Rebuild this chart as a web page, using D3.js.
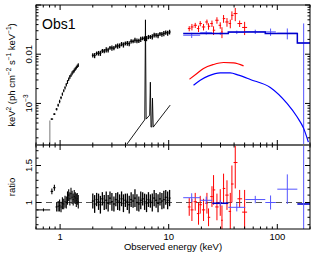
<!DOCTYPE html>
<html><head><meta charset="utf-8">
<script src="https://cdn.jsdelivr.net/npm/d3@7"></script>
<style>body{margin:0;background:#fff}svg{display:block;font-family:"Liberation Sans",Arial,Helvetica,sans-serif}</style>
</head><body><svg id="c" width="311" height="256"></svg>
<script>
// ---------------- data ----------------
const panelLabel = "Obs1";
const xTitle = "Observed energy (keV)";
const ratioTitle = "ratio";

const xDomain = [0.6, 200];
const topDomain = [1.43e-4, 0.1];
const ratioDomain = [0.642, 1.777];

const xMajorTicks = [1, 10, 100];
const xTickLabels = ["1", "10", "100"];
const xMinorTicks = [0.6,0.7,0.8,0.9,2,3,4,5,6,7,8,9,20,30,40,50,60,70,80,90,200];
const topMajorTicks = [1e-3, 1e-2, 0.1];
const topTickLabels = [["10","\u22123"], ["0.01",""], null];
const topMinorTicks = [2e-4,3e-4,4e-4,5e-4,6e-4,7e-4,8e-4,9e-4,2e-3,3e-3,4e-3,5e-3,6e-3,7e-3,8e-3,9e-3,2e-2,3e-2,4e-2,5e-2,6e-2,7e-2,8e-2,9e-2];
const ratioMajorTicks = [1, 1.5];
const ratioTickLabels = ["1", "1.5"];
const ratioMinorTicks = [0.7,0.8,0.9,1.1,1.2,1.3,1.4,1.6,1.7];

// black (soft X-ray) data, segment 1
const blackE1 = [0.84,0.886,0.93,0.96,0.99,1.02,1.05,1.08,1.11,1.14,1.17,1.20,1.23,1.26,1.29,1.32,1.35,1.38,1.41,1.44,1.47];
const blackTop1 = [4.81e-4,6.07e-4,7.66e-4,9.24e-4,1.10e-3,1.31e-3,1.55e-3,1.81e-3,2.08e-3,2.40e-3,2.74e-3,3.11e-3,3.46e-3,3.75e-3,4.12e-3,4.42e-3,4.69e-3,5.03e-3,5.35e-3,5.69e-3,6.01e-3];
const blackRatio1 = [1.15,1.2,0.94,0.95,0.96,0.94,0.99,0.98,1.01,1.0,1.06,1.1,1.05,1.12,1.07,1.04,1.08,1.06,1.03,1.05,1.01];
const blackErr1 = [0.04,0.04,0.06,0.07,0.08,0.07,0.08,0.07,0.08,0.08,0.09,0.08,0.09,0.08,0.09,0.08,0.09,0.08,0.09,0.08,0.09];
// black data, segment 2
const blackE2 = [2.00,2.08,2.17,2.26,2.35,2.45,2.55,2.66,2.77,2.88,3.00,3.13,3.26,3.39,3.53,3.68,3.83,3.99,4.16,4.33,4.51,4.70,4.89,5.10,5.31,5.53,5.76,6.00,6.25,6.51,6.78,7.06,7.35,7.66,7.98,8.31,8.66,9.02,9.39,9.78,10.19];
const blackTop2 = [0.00950,0.00943,0.0104,0.0105,0.0105,0.0117,0.0116,0.0123,0.0122,0.0135,0.0134,0.0133,0.0146,0.0147,0.0149,0.0161,0.0155,0.0166,0.0167,0.0164,0.0183,0.0183,0.0194,0.0187,0.0188,0.0202,0.0211,0.0208,0.0209,0.0224,0.0225,0.0226,0.0245,0.0244,0.0239,0.0259,0.0255,0.0263,0.0275,0.0269,0.0283];
const blackRatio2 = [1.02,0.98,1.04,1.01,0.97,1.05,1.0,1.03,0.99,1.06,1.01,0.98,1.04,1.02,1.0,1.05,0.99,1.03,1.01,0.97,1.04,1.02,1.06,1.0,0.98,1.03,1.05,1.01,0.99,1.04,1.02,1.0,1.06,1.03,0.99,1.05,1.02,1.04,1.07,1.03,1.06];
const blackErr2 = [0.10,0.12,0.09,0.11,0.12,0.09,0.10,0.12,0.11,0.09,0.12,0.10,0.09,0.12,0.11,0.10,0.12,0.09,0.11,0.12,0.10,0.09,0.12,0.11,0.10,0.12,0.09,0.11,0.12,0.10,0.09,0.12,0.11,0.10,0.12,0.09,0.11,0.12,0.10,0.12,0.11];
// lowest-energy black points
const blackLowTopE = [0.805];
const blackLowTop = [4.5e-4];
const blackLowRatioLo = [0.61], blackLowRatioHi = [0.81];
const blackLowRatio = [0.90];

// black model components (continuum + Fe lines)
const lineModelE = [3.73,5.98,6.02,6.11,6.20,6.68,6.78,6.87,6.99,7.09,7.20,10.32];
const lineModelV = [1.10e-4,4.58e-4,4.6e-4,0.050,4.81e-4,5.79e-4,2.70e-3,3.30e-4,3.35e-4,1.28e-3,3.30e-4,9.25e-4];

// red (hard X-ray) data
const redE = [15.45,16.36,17.55,18.82,19.51,20.93,22.49,23.27,25.02,25.88,27.81,29.83,30.93,32.0,34.4,36.9,38.2,41.0,45.0,50.0];
const redTop = [0.0332,0.0358,0.0387,0.0332,0.0420,0.0358,0.0452,0.0370,0.0420,0.0307,0.049,0.0387,0.0283,0.053,0.0452,0.0420,0.0618,0.067,0.0420,0.035];
const redTopErr = [0.12,0.15,0.12,0.15,0.12,0.15,0.12,0.15,0.15,0.2,0.15,0.15,0.25,0.18,0.2,0.2,0.2,0.3,0.15,0.3];
const redRatio = [0.94,0.90,1.01,0.85,0.97,0.90,0.99,0.80,1.08,1.17,0.94,1.0,0.76,1.19,1.10,0.88,1.25,1.54,1.05,0.87];
const redRatioErr = [0.12,0.15,0.12,0.15,0.12,0.15,0.14,0.12,0.14,0.2,0.18,0.18,0.2,0.2,0.2,0.25,0.25,0.35,0.12,0.3];
// red model component
const redModelE = [15.55,18.2,20.93,25.88,32.0,39.6,48.9];
const redModelV = [3.11e-3,4.06e-3,5.13e-3,6.18e-3,6.79e-3,6.67e-3,5.8e-3];

// blue (very hard X-ray) data
const blueLo = [13.6,19.5,25.2,35.4,50.7,77.5,100,152.9];
const blueHi = [19.5,25.2,35.4,50.7,77.5,97,152.9,200];
const blueTop = [0.0243,0.0273,0.0263,0.0279,0.0286,0.0284,0.0267,0.0169];
const blueTopErr = [0.12,0.08,0.06,0.08,0.1,0.17,0.25,1.5];
const blueRatio = [1.065,1.03,0.99,0.935,1.04,1.0,1.18,0.98];
const blueRatioErr = [0.06,0.05,0.04,0.055,0.05,0.095,0.2,2.0];
// blue total model (binned) and blue model component
const blueModelEdges = [13.6,35.4,77.5,152.9,200];
const blueModelV = [0.0263,0.0283,0.0263,0.0169];
const blueCompE = [16.93,19.51,23.27,29.83,36.9,43.99,56.4,86.2,122.9,151.9,174.8,193.2];
const blueCompV = [2.35e-3,2.97e-3,3.63e-3,4.18e-3,4.18e-3,3.75e-3,3.07e-3,2.11e-3,1.0e-3,5.35e-4,3.11e-4,1.64e-4];

// ---------------- drawing ----------------
const svg = d3.select("#c");
const L = 36, R = 310, T = 5, M = 145, B = 229;
const x = d3.scaleLog().domain(xDomain).range([L, R]);
const yT = d3.scaleLog().domain(topDomain).range([M, T]);
const yR = d3.scaleLinear().domain(ratioDomain).range([B, M]);

const defs = svg.append("defs");
defs.append("clipPath").attr("id","cT").append("rect").attr("x",L).attr("y",T).attr("width",R-L).attr("height",M-T);
defs.append("clipPath").attr("id","cR").append("rect").attr("x",L).attr("y",M).attr("width",R-L).attr("height",B-M);
const gT = svg.append("g").attr("clip-path","url(#cT)");
const gR = svg.append("g").attr("clip-path","url(#cR)");

const tMin = topDomain[0]*0.3;
function binEdges(E){
  return E.map((e,i)=>{
    const lo = i>0 ? Math.sqrt(E[i-1]*e) : e/Math.sqrt(E[i+1]/e);
    const hi = i<E.length-1 ? Math.sqrt(e*E[i+1]) : e*Math.sqrt(e/E[i-1]);
    return [lo,hi];
  });
}
function cross(g, lo, hi, xc, yv, y1, y2, color, w, vColor, vw){
  g.append("line").attr("x1",x(lo)).attr("x2",x(hi)).attr("y1",yv).attr("y2",yv)
    .attr("stroke",color).attr("stroke-width",w||1);
  g.append("line").attr("x1",x(xc)).attr("x2",x(xc)).attr("y1",y1).attr("y2",y2)
    .attr("stroke",vColor||color).attr("stroke-width",vw||w||1);
}
function drawSet(E, top, ratio, err, color, w){
  const ed = binEdges(E);
  E.forEach((e,i)=>{
    const v = top[i];
    cross(gT, ed[i][0], ed[i][1], e, yT(v), yT(Math.max(tMin, v*(1-err[i]))), yT(v*(1+err[i])), color, w);
    const r = ratio[i];
    cross(gR, ed[i][0], ed[i][1], e, yR(r), yR(r-err[i]), yR(r+err[i]), color, w);
  });
}

// dashed unity line
gR.append("line").attr("x1",L).attr("x2",R).attr("y1",yR(1)).attr("y2",yR(1))
  .attr("stroke","#555").attr("stroke-dasharray","6,4");

// black model line
gT.append("path").datum(lineModelE.map((e,i)=>[e,lineModelV[i]]))
  .attr("d", d3.line().x(d=>x(d[0])).y(d=>yT(d[1])))
  .attr("fill","none").attr("stroke","#000").attr("stroke-width",0.9);

// black data
drawSet(blackE1, blackTop1, blackRatio1, blackErr1, "#000", 1.1);
drawSet(blackE2, blackTop2, blackRatio2, blackErr2, "#000", 1.3);
blackLowTopE.forEach((e,i)=>{
  gT.append("line").attr("x1",x(e)).attr("x2",x(e)).attr("y1",yT(blackLowTop[i])).attr("y2",M+5)
    .attr("stroke","#777");
});
blackLowRatio.forEach((r,i)=>{
  const lo=blackLowRatioLo[i], hi=blackLowRatioHi[i], c=Math.sqrt(lo*hi);
  cross(gR, lo, hi, c, yR(r), yR(r-0.02), yR(r+0.02), "#000");
});

// red data
{
  const ed = binEdges(redE);
  redE.forEach((e,i)=>{
    const v = redTop[i];
    cross(gT, ed[i][0], ed[i][1], e, yT(v), yT(v*(1-redTopErr[i])), yT(v*(1+redTopErr[i])), "#f00");
    const r = redRatio[i];
    cross(gR, ed[i][0], ed[i][1], e, yR(r), yR(r-redRatioErr[i]), yR(r+redRatioErr[i]), "#f00");
  });
}
gT.append("path").datum(redModelE.map((e,i)=>[e,redModelV[i]]))
  .attr("d", d3.line().x(d=>x(d[0])).y(d=>yT(d[1])).curve(d3.curveMonotoneX))
  .attr("fill","none").attr("stroke","#f00").attr("stroke-width",1.2);

// blue data
blueTop.forEach((v,i)=>{
  const lo=blueLo[i], hi=blueHi[i], c=Math.sqrt(lo*hi);
  cross(gT, lo, hi, c, yT(v), yT(Math.max(tMin, v*(1-blueTopErr[i]))), yT(v*(1+blueTopErr[i])), "#55f");
  const r=blueRatio[i];
  const dark = (i===2||i===7);
  cross(gR, lo, hi, c, yR(r), yR(r-blueRatioErr[i]), yR(r+blueRatioErr[i]), dark?"#00c":"#55f", dark?1.6:1, "#55f", 1);
});
{
  const pts=[];
  blueModelV.forEach((v,i)=>{ pts.push([blueModelEdges[i],v]); pts.push([blueModelEdges[i+1],v]); });
  gT.append("path").datum(pts)
    .attr("d", d3.line().x(d=>x(d[0])).y(d=>yT(d[1])))
    .attr("fill","none").attr("stroke","#00c").attr("stroke-width",1.5);
}
gT.append("path").datum(blueCompE.map((e,i)=>[e,blueCompV[i]]))
  .attr("d", d3.line().x(d=>x(d[0])).y(d=>yT(d[1])).curve(d3.curveMonotoneX))
  .attr("fill","none").attr("stroke","#00f").attr("stroke-width",1.2);

// ---------------- frames & ticks ----------------
const ax = svg.append("g").attr("stroke","#000").attr("fill","none");
function frame(y0,y1){
  ax.append("rect").attr("x",L).attr("y",y0).attr("width",R-L).attr("height",y1-y0).attr("stroke-width",1);
}
frame(T,M); frame(M,B);
ax.append("line").attr("x1",L).attr("x2",R).attr("y1",M).attr("y2",M).attr("stroke","#666").attr("stroke-width",2);

function xTicks(y0,y1){
  const put=(vals,len)=>vals.forEach(v=>{
    ax.append("line").attr("x1",x(v)).attr("x2",x(v)).attr("y1",y0).attr("y2",y0+len);
    ax.append("line").attr("x1",x(v)).attr("x2",x(v)).attr("y1",y1).attr("y2",y1-len);
  });
  put(xMajorTicks,5); put(xMinorTicks,2.5);
}
xTicks(T,M); xTicks(M,B);
function yTicks(scale,vals,len){
  vals.forEach(v=>{
    ax.append("line").attr("x1",L).attr("x2",L+len).attr("y1",scale(v)).attr("y2",scale(v));
    ax.append("line").attr("x1",R).attr("x2",R-len).attr("y1",scale(v)).attr("y2",scale(v));
  });
}
yTicks(yT, topMajorTicks, 5); yTicks(yT, topMinorTicks, 2.5);
yTicks(yR, ratioMajorTicks, 5); yTicks(yR, ratioMinorTicks, 2.5);

// ---------------- text ----------------
const tx = svg.append("g").attr("fill","#000");
xMajorTicks.forEach((v,i)=>{
  tx.append("text").attr("x",x(v)).attr("y",240).attr("text-anchor","middle")
    .attr("font-size",9.5).text(xTickLabels[i]);
});
topMajorTicks.forEach((v,i)=>{
  const lab = topTickLabels[i]; if(!lab) return;
  const t = tx.append("text").attr("transform",`translate(31.5,${yT(v)}) rotate(-90)`)
    .attr("text-anchor","middle").attr("font-size",9.5);
  t.append("tspan").text(lab[0]);
  if(lab[1]) t.append("tspan").attr("dy",-3.5).attr("font-size",6.5).text(lab[1]);
});
ratioMajorTicks.forEach((v,i)=>{
  tx.append("text").attr("transform",`translate(31.5,${yR(v)}) rotate(-90)`)
    .attr("text-anchor","middle").attr("font-size",9.5).text(ratioTickLabels[i]);
});
tx.append("text").attr("x",173).attr("y",250).attr("text-anchor","middle").attr("font-size",9.5).text(xTitle);
tx.append("text").attr("transform",`translate(14.5,${(B+M)/2}) rotate(-90)`)
  .attr("text-anchor","middle").attr("font-size",9.5).text(ratioTitle);
{
  const t = tx.append("text").attr("transform",`translate(14.5,${(T+M)/2}) rotate(-90)`)
    .attr("text-anchor","middle").attr("font-size",9.5);
  const parts = [["keV",0],["2",1],[" (ph cm",0],["\u22122",1],[" s",0],["\u22121",1],[" keV",0],["\u22121",1],[")",0]];
  let sup=false;
  parts.forEach(([s,p])=>{
    const ts=t.append("tspan").text(s);
    if(p && !sup){ ts.attr("dy",-3.5).attr("font-size",6.5); sup=true; }
    else if(!p && sup){ ts.attr("dy",3.5); sup=false; }
  });
}
tx.append("text").attr("x",42).attr("y",29).attr("font-size",14).text(panelLabel);
</script></body></html>
